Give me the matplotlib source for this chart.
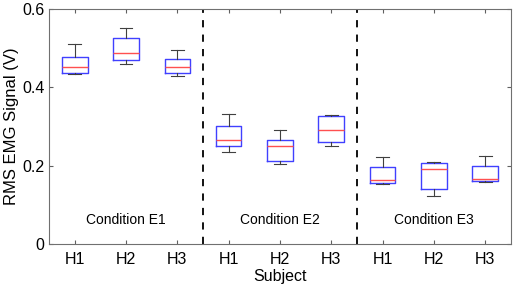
import matplotlib.pyplot as plt

plt.rcParams['font.family'] = ['Liberation Sans', 'DejaVu Sans']

subjects = ['H1', 'H2', 'H3'] * 3
conditions = ['Condition E1', 'Condition E2', 'Condition E3']

# box statistics: lower whisker, q1, median, q3, upper whisker
whislo = [0.434, 0.459, 0.429, 0.234, 0.203, 0.250, 0.154, 0.123, 0.158]
q1 = [0.436, 0.469, 0.436, 0.250, 0.211, 0.261, 0.155, 0.141, 0.161]
med = [0.452, 0.488, 0.451, 0.265, 0.250, 0.292, 0.163, 0.191, 0.165]
q3 = [0.478, 0.527, 0.473, 0.301, 0.265, 0.326, 0.196, 0.207, 0.199]
whishi = [0.510, 0.552, 0.494, 0.332, 0.292, 0.328, 0.221, 0.209, 0.225]

stats = []
for i in range(len(med)):
    stats.append({'whislo': whislo[i], 'q1': q1[i], 'med': med[i],
                  'q3': q3[i], 'whishi': whishi[i], 'fliers': []})

fig = plt.figure(figsize=(5.17, 2.88), dpi=100)
ax = fig.add_axes([0.095, 0.153, 0.893, 0.816])

pos = list(range(1, len(med) + 1))
ax.bxp(stats, positions=pos, widths=0.5, showfliers=False,
       boxprops=dict(color='#4040ff', linewidth=1.0),
       medianprops=dict(color='#ff5050', linewidth=1.0),
       whiskerprops=dict(color='#404040', linewidth=0.8),
       capprops=dict(color='#404040', linewidth=0.8),
       capwidths=0.25)

for xv in [3.5, 6.5]:
    ax.plot([xv, xv], [0, 0.6], color='black', linestyle=(0, (4, 4)), linewidth=1.3)

for i, c in enumerate(conditions):
    ax.text(2 + 3 * i, 0.06, c, ha='center', va='center', fontsize=10)

ax.set_xlim(0.5, 9.5)
ax.set_ylim(0, 0.6)
ax.set_xticks(pos)
ax.set_xticklabels(subjects)
ax.set_yticks([0, 0.2, 0.4, 0.6])
ax.set_yticklabels(['0', '0.2', '0.4', '0.6'])
ax.tick_params(direction='in', top=True, right=True, labelsize=11.5,
               length=3, color='#606060')
ax.tick_params(axis='x', pad=6)
for s in ax.spines.values():
    s.set_color('#707070')
ax.set_xlabel('Subject', fontsize=11.5, labelpad=1)
ax.set_ylabel('RMS EMG Signal (V)', fontsize=12, labelpad=2)

fig.savefig('out.png', dpi=100)
